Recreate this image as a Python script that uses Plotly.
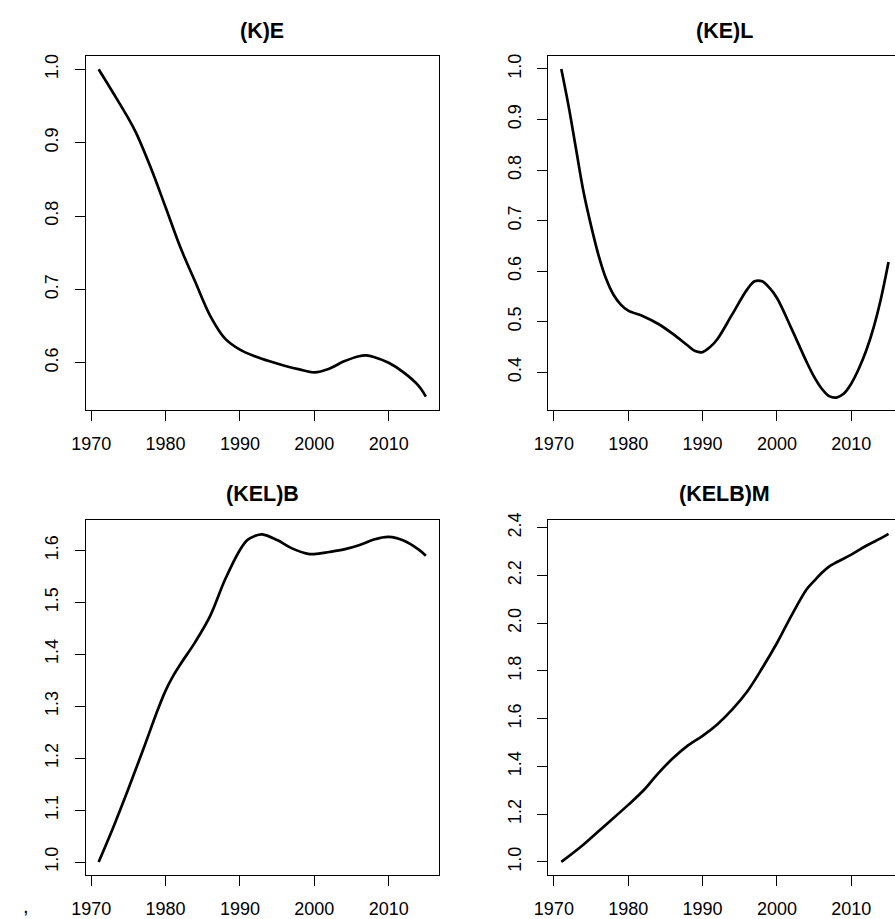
import plotly.graph_objects as go

# ---- data ----
years_ke = [1971, 1973, 1975, 1976, 1978, 1980, 1982, 1984, 1986, 1988, 1990, 1992, 1994,
            1996, 1998, 2000, 2002, 2004, 2006, 2007, 2008, 2010, 2012, 2014, 2015]
ke = [1.0, 0.967, 0.933, 0.914, 0.866, 0.812, 0.757, 0.71, 0.664, 0.633, 0.618, 0.609, 0.602,
      0.596, 0.591, 0.587, 0.592, 0.602, 0.609, 0.610, 0.608, 0.600, 0.587, 0.569, 0.554]

years_kel = [1971, 1972, 1973, 1974, 1975, 1976, 1977, 1978, 1979, 1980, 1982, 1984, 1986, 1988,
             1989, 1990, 1991, 1992, 1994, 1996, 1997, 1998, 1999, 2000, 2002, 2004, 2005, 2006,
             2007, 2008, 2009, 2010, 2011, 2012, 2013, 2014, 2015]
kel = [1.0, 0.925, 0.84, 0.756, 0.69, 0.632, 0.586, 0.554, 0.534, 0.522, 0.511, 0.496, 0.476, 0.453,
       0.442, 0.440, 0.45, 0.466, 0.515, 0.564, 0.580, 0.580, 0.567, 0.547, 0.485, 0.42, 0.391, 0.368,
       0.353, 0.35, 0.358, 0.378, 0.407, 0.443, 0.489, 0.547, 0.618]

years_kelb = [1971, 1973, 1975, 1977, 1979, 1980, 1981, 1982, 1984, 1986, 1988, 1990, 1991, 1992, 1993,
              1995, 1997, 1999, 2000, 2002, 2004, 2006, 2008, 2010, 2012, 2014, 2015]
kelb = [1.0, 1.068, 1.141, 1.217, 1.295, 1.330, 1.358, 1.381, 1.424, 1.474, 1.544, 1.601, 1.62, 1.628, 1.631,
        1.62, 1.604, 1.594, 1.593, 1.597, 1.602, 1.61, 1.621, 1.626, 1.619, 1.602, 1.59]

years_kelbm = [1971, 1974, 1977, 1980, 1982, 1984, 1986, 1988, 1990, 1992, 1994, 1996, 1998, 2000,
               2002, 2004, 2005, 2006, 2007, 2008, 2010, 2012, 2014, 2015]
kelbm = [1.0, 1.073, 1.156, 1.239, 1.298, 1.37, 1.434, 1.487, 1.528, 1.577, 1.639, 1.714, 1.811, 1.917,
         2.035, 2.142, 2.177, 2.21, 2.237, 2.255, 2.287, 2.324, 2.356, 2.374]

titles = ["(K)E", "(KE)L", "(KEL)B", "(KELB)M"]
x_ticks = [1970, 1980, 1990, 2000, 2010]
y_ticks_1 = [0.6, 0.7, 0.8, 0.9, 1.0]
y_ticks_2 = [0.4, 0.5, 0.6, 0.7, 0.8, 0.9, 1.0]
y_ticks_3 = [1.0, 1.1, 1.2, 1.3, 1.4, 1.5, 1.6]
y_ticks_4 = [1.0, 1.2, 1.4, 1.6, 1.8, 2.0, 2.2, 2.4]

W, H = 895, 919
FONT = "Liberation Sans, Arial, Helvetica, sans-serif"

# right-hand panels are cut off by the image edge (their box would end at x=901.7)
panels = [
    dict(x=years_ke, y=ke, yt=y_ticks_1, yr=[0.5351, 1.0179], box=(72.7, 431.7, 48.7, 407.3), xr=[1969.24, 2016.76], right=True),
    dict(x=years_kel, y=kel, yt=y_ticks_2, yr=[0.3246, 1.0254], box=(542.7, 895.0, 48.7, 407.3), xr=[1969.24, 2015.87], right=False),
    dict(x=years_kelb, y=kelb, yt=y_ticks_3, yr=[0.9746, 1.6577], box=(72.7, 431.7, 518.7, 877.7), xr=[1969.24, 2016.76], right=True),
    dict(x=years_kelbm, y=kelbm, yt=y_ticks_4, yr=[0.9445, 2.4300], box=(542.7, 895.0, 518.7, 877.7), xr=[1969.24, 2015.87], right=False),
]

fig = go.Figure()
layout = dict(
    width=W, height=H, margin=dict(l=0, r=0, t=0, b=0),
    paper_bgcolor="white", plot_bgcolor="white", showlegend=False,
    font=dict(family=FONT, color="black", size=18),
)
annotations = []
for i, p in enumerate(panels, start=1):
    sfx = "" if i == 1 else str(i)
    fig.add_trace(go.Scatter(x=p["x"], y=p["y"], mode="lines",
                             line=dict(color="black", width=2.7, shape="spline", smoothing=1.0),
                             xaxis="x" + sfx, yaxis="y" + sfx, hoverinfo="skip"))
    l, r, t, b = p["box"]
    common = dict(showgrid=False, zeroline=False, showline=True, linecolor="black", linewidth=1,
                  ticks="outside", ticklen=10, tickwidth=1, tickcolor="black",
                  tickfont=dict(family=FONT, size=18, color="black"))
    layout["xaxis" + sfx] = dict(domain=[l / W, r / W], range=p["xr"], anchor="y" + sfx,
                                 tickvals=x_ticks, ticktext=[str(v) for v in x_ticks],
                                 mirror=True, ticklabelstandoff=7, **common)
    layout["yaxis" + sfx] = dict(domain=[1 - b / H, 1 - t / H], range=p["yr"], anchor="x" + sfx,
                                 tickvals=p["yt"], ticktext=["%.1f" % v for v in p["yt"]],
                                 tickangle=-90, mirror=p["right"], ticklabelstandoff=9, **common)
    annotations.append(dict(text="<b>%s</b>" % titles[i - 1], x=(l + 179.5) / W,
                            y=1 - (23 if t < 100 else 491.7) / H, xref="paper", yref="paper",
                            xanchor="center", yanchor="middle", showarrow=False,
                            font=dict(family=FONT, size=21.5, color="black")))

annotations.append(dict(text=",", x=12 / W, y=1 - 909 / H, xref="paper", yref="paper",
                        xanchor="center", yanchor="middle", showarrow=False,
                        font=dict(family=FONT, size=20, color="black")))
layout["annotations"] = annotations
fig.update_layout(**layout)
fig.write_html("out.html")
